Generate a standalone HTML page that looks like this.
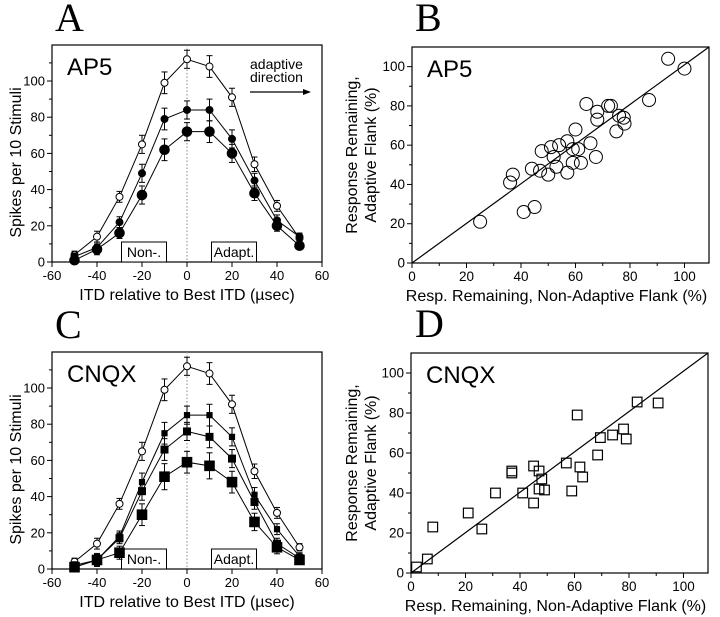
<!DOCTYPE html>
<html><head><meta charset="utf-8"><style>
html,body{margin:0;padding:0;background:#fff;}
svg{display:block;font-family:"Liberation Sans",sans-serif;}
</style></head><body>
<svg id="fig" width="720" height="617" viewBox="0 0 720 617" xmlns="http://www.w3.org/2000/svg"></svg>
<script>
const itd = [-50,-40,-30,-20,-10,0,10,20,30,40,50];
const xTicksItd = [-60,-40,-20,0,20,40,60];
const yTicksSpk = [0,20,40,60,80,100];
const scatTicks = [0,20,40,60,80,100];
const aOpen = [4,14,36,65,99,112,108,91,54,31,13];
const aSmall = [3,8,22,49,79,84,84,68,45,23,14];
const aLarge = [1,7,16,37,62,72,72,60,38,20,9];
const aErr = [2,3,3,5,6,5,6,5,4,3,2];
const cOpen = [4,14,36,65,99,112,108,91,54,31,12];
const cSmall = [2,5,18,48,75,85,85,73,41,22,7];
const cMed = [1,5,17,43,66,76,73,61,37,14,6];
const cLarge = [1,5,9,30,51,59,57,48,26,12,5];
const bX = [25,36,37,41,45,44,47,47.6,50,51,52,53,54,57,57,59,59,60,61,62,64,65.5,67.5,68,68,72,73,75,76,77.7,78,87,94,100];
const bY = [21,41,45,26,28.5,48,47,57,45,59,54,49,60,62,46,58,51,68,58,51,81,61,54,77,73,80,80,67,75,74,71,83,104,99];
const dX = [2,6,8,21,26,31,37,37,41,45,45,47,47,48,49,57,59,61,62,63,68.5,69.5,74,78,79,83,90.7];
const dY = [3,7,23,30,22,40,51,50,40,35,53.5,42,51,47,41.5,55,41,79,53,48,59,67.7,69,72,67,85.5,85];

const NS="http://www.w3.org/2000/svg", svg=document.getElementById('fig');
function mk(tag,attrs,parent){const e=document.createElementNS(NS,tag);for(const k in attrs)e.setAttribute(k,attrs[k]);(parent||svg).appendChild(e);return e;}
function txt(s,attrs,parent){const e=mk('text',attrs,parent);e.textContent=s;return e;}
function lin(d0,d1,r0,r1){return v=>r0+(v-d0)*(r1-r0)/(d1-d0);}

function frame(g,L,R,T,B,sx,sy,xt,yt,minor,fs){
  const box=mk('rect',{x:L,y:T,width:R-L,height:B-T,fill:'none',stroke:'#000','stroke-width':1.2},g);
  
  xt.forEach(v=>{const x=sx(v);mk('line',{x1:x,y1:B,x2:x,y2:B+5,stroke:'#000'},g);
    const t=txt(String(v),{x:x,y:B+18,'text-anchor':'middle','font-size':fs},g);
    });
  yt.forEach(v=>{const y=sy(v);mk('line',{x1:L-5,y1:y,x2:L,y2:y,stroke:'#000'},g);
    const t=txt(String(v),{x:L-7,y:y+4.5,'text-anchor':'end','font-size':fs},g);
    });
  minor.forEach(v=>{const y=sy(v);mk('line',{x1:L-3,y1:y,x2:L,y2:y,stroke:'#000'},g);});
}

function tuning(gx,gy,label,series,title){
  const g=mk('g',{});
  const L=52,R=322,T=gy,B=gy+217;
  const sx=lin(-60,60,L,R), sy=lin(0,100,B,B-181);
  const pl=txt(label,{x:55,y:gy-14,'font-family':'Liberation Serif,serif','font-size':40},g);
  
  frame(g,L,R,T,B,sx,sy,xTicksItd,yTicksSpk,[10,30,50,70,90,110],13);
  mk('line',{x1:sx(0),y1:T,x2:sx(0),y2:B,stroke:'#888','stroke-dasharray':'1.5,2'},g);
  [['Non-.',-30],['Adapt.',10]].forEach(([s,a])=>{
    const r=mk('rect',{x:sx(a)+2,y:B-20,width:45,height:20,fill:'#fff',stroke:'#000'},g);
    
    txt(s,{x:sx(a)+24.5,y:B-5,'text-anchor':'middle','font-size':14},g);});
  series.forEach(s=>{
    const pts=itd.map((v,i)=>sx(v)+','+sy(s.v[i])).join(' ');
    const p=mk('polyline',{points:pts,fill:'none',stroke:'#000','stroke-width':1},g);
    
    itd.forEach((v,i)=>{const x=sx(v),y=sy(s.v[i]),e=aErr[i]*(s.ef||1);
      mk('line',{x1:x,y1:sy(s.v[i]+e),x2:x,y2:sy(s.v[i]-e),stroke:'#000'},g);
      mk('line',{x1:x-3,y1:sy(s.v[i]+e),x2:x+3,y2:sy(s.v[i]+e),stroke:'#000'},g);
      mk('line',{x1:x-3,y1:sy(s.v[i]-e),x2:x+3,y2:sy(s.v[i]-e),stroke:'#000'},g);
      let m;
      if(s.shape==='c') m=mk('circle',{cx:x,cy:y,r:s.r,fill:s.fill,stroke:'#000','stroke-width':1},g);
      else m=mk('rect',{x:x-s.r,y:y-s.r,width:2*s.r,height:2*s.r,fill:s.fill,stroke:'#000'},g);
      });
  });
  const it=txt(title,{x:L+15,y:T+30,'font-size':24},g);
  
  const xt=txt('ITD relative to Best ITD (\u00b5sec)',{x:(L+R)/2,y:B+38,'text-anchor':'middle','font-size':16},g);
  
  const yt=txt('Spikes per 10 Stimuli',{x:0,y:0,'text-anchor':'middle','font-size':16,transform:`translate(21,${(T+B)/2+9}) rotate(-90)`},g);
  
  return {g,T};
}

const A=tuning(0,45,'A',[
  {v:aOpen,shape:'c',r:3.5,fill:'#fff'},{v:aSmall,shape:'c',r:3.5,fill:'#000'},{v:aLarge,shape:'c',r:4.8,fill:'#000'}],'AP5');
const ad=txt('adaptive',{x:250,y:69,'font-size':14},A.g);
txt('direction',{x:250,y:82,'font-size':14},A.g);
const ar=mk('line',{x1:250,y1:92,x2:304,y2:92,stroke:'#000','stroke-width':1.2},A.g);
mk('polygon',{points:'303,89 311,92 303,95',fill:'#000'},A.g);

tuning(0,352,'C',[
  {v:cOpen,shape:'c',r:3.5,fill:'#fff'},{v:cSmall,shape:'s',r:2.6,fill:'#000'},{v:cMed,shape:'s',r:3.5,fill:'#000'},{v:cLarge,shape:'s',r:4.8,fill:'#000',ef:1.2}],'CNQX');

function scatter(label,L,R,T,B,xs,ys,shape,title){
  const g=mk('g',{});
  const sx=lin(0,100,L,L+(R-L)*100/109), sy=lin(0,110,B,T);
  const pl=txt(label,{x:415,y:T-16,'font-family':'Liberation Serif,serif','font-size':40},g);
  
  frame(g,L,R,T,B,sx,sy,scatTicks,scatTicks,[10,30,50,70,90],13.5);
  [10,30,50,70,90].forEach(v=>mk('line',{x1:sx(v),y1:B,x2:sx(v),y2:B+3,stroke:'#000'},g));
  const u=mk('line',{x1:L,y1:B,x2:R,y2:T,stroke:'#000','stroke-width':1.2},g);
  
  xs.forEach((v,i)=>{const x=sx(v),y=sy(ys[i]);let m;
    if(shape==='c') m=mk('circle',{cx:x,cy:y,r:6.5,fill:'none',stroke:'#000','stroke-width':1},g);
    else m=mk('rect',{x:x-4.8,y:y-4.8,width:9.6,height:9.6,fill:'none',stroke:'#000','stroke-width':1.2},g);
    });
  const it=txt(title,{x:L+15,y:T+30,'font-size':24},g);
  const xt=txt('Resp. Remaining, Non-Adaptive Flank (%)',{x:(L+R)/2-4,y:B+38,'text-anchor':'middle','font-size':16},g);
  
  const yt=txt('Response Remaining,',{x:0,y:0,'text-anchor':'middle','font-size':16,transform:`translate(357,${(T+B)/2}) rotate(-90)`},g);
  
  txt('Adaptive Flank (%)',{x:0,y:0,'text-anchor':'middle','font-size':16,transform:`translate(376,${(T+B)/2}) rotate(-90)`},g);
}
scatter('B',412,709,47,263,bX,bY,'c','AP5');
scatter('D',411,708,353,573,dX,dY,'s','CNQX');
</script>
</body></html>
